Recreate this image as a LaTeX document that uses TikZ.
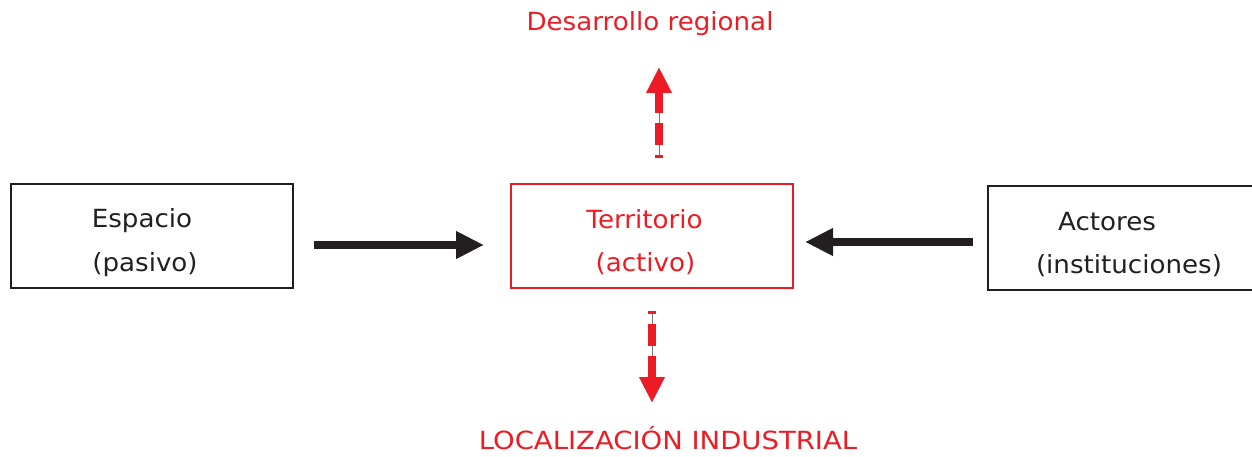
\documentclass[tikz,border=0pt]{standalone}
\usepackage{fontspec}
\setmainfont{DejaVu Sans}[FakeStretch=1.045]
\newfontfamily\anchafont{DejaVu Sans}[FakeStretch=1.1]
\usetikzlibrary{arrows.meta}
\definecolor{rojo}{RGB}{237,28,36}
\definecolor{negro}{RGB}{35,31,32}
\definecolor{gris}{RGB}{120,120,120}
\begin{document}
\begin{tikzpicture}[x=1pt,y=-1pt,
  caja/.style={draw=negro,line width=1.6pt,minimum width=282pt,minimum height=104pt,inner sep=0pt},
  cajaroja/.style={caja,draw=rojo},
  texto/.style={anchor=base,inner sep=0pt,font=\fontsize{25}{30}\selectfont,text=negro},
  textorojo/.style={texto,text=rojo},
  flecha/.style={draw=negro,line width=8pt,-{Triangle[length=28pt,width=26pt]}},
  rojaflecha/.style={draw=rojo,line width=8pt,dash pattern=on 3pt off 10pt on 22pt off 10pt on 200pt,-{Triangle[length=26pt,width=24pt]}},
  hilo/.style={draw=gris,line width=0.9pt}]
\useasboundingbox (0,0) rectangle (1252,457);
\node[caja] (esp) at (152,236) {};
\node[cajaroja] (ter) at (652,236) {};
\node[caja] (act) at (1129,238) {};
\node[texto] (esp1) at (142,227) {Espacio};
\node[texto] (esp2) at (145,271) {(pasivo)};
\node[textorojo] (ter1) at (644.5,228) {Territorio};
\node[textorojo] (ter2) at (645.5,271) {(activo)};
\node[texto] (act1) at (1107,230) {Actores};
\node[texto] (act2) at (1129,273) {(instituciones)};
\node[textorojo] (des) at (650,31) {Desarrollo regional};
\node[textorojo,font=\anchafont\fontsize{25}{30}\selectfont] (loc) at (668,449) {LOCALIZACIÓN INDUSTRIAL};
\coordinate (a1) at (314,245);
\coordinate (a2) at (484,245);
\coordinate (b1) at (973,242);
\coordinate (b2) at (805,242);
\coordinate (u1) at (659,158);
\coordinate (u2) at (659,67);
\coordinate (d1) at (652,311);
\coordinate (d2) at (652,403);
\draw[flecha] (a1) -- (a2);
\draw[flecha] (b1) -- (b2);
\draw[hilo] (u1) -- ([yshift=-20pt]u2);
\draw[rojaflecha] (u1) -- (u2);
\draw[hilo] (d1) -- ([yshift=20pt]d2);
\draw[rojaflecha] (d1) -- (d2);
\end{tikzpicture}
\end{document}
